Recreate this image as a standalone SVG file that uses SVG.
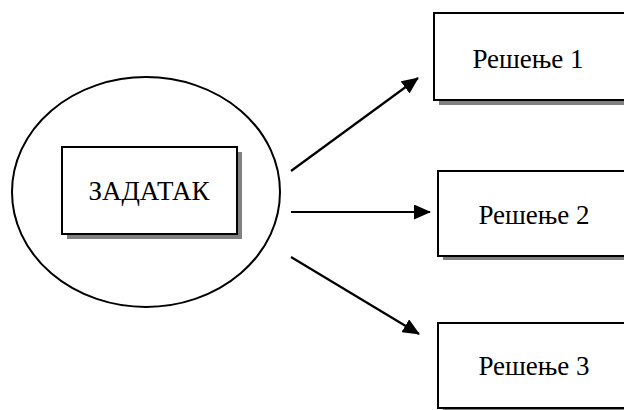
<svg xmlns="http://www.w3.org/2000/svg" width="624" height="410" viewBox="0 0 624 410">
<defs>
<style>
.box{fill:#fff;stroke:#000;stroke-width:2}
.sh{fill:#808080}
.t{font-family:"Liberation Serif","Times New Roman",serif;font-size:27px;fill:#000;text-anchor:middle}
.c{stroke:#000;stroke-width:2.2;fill:none}
</style>
<marker id="ah" markerWidth="17" markerHeight="15" refX="16" refY="7.5" orient="auto" markerUnits="userSpaceOnUse">
<path d="M0,0 L17,7.5 L0,15 Z" fill="#000"/>
</marker>
</defs>
<g id="task">
<ellipse cx="146" cy="192" rx="134" ry="115" fill="#fff" stroke="#000" stroke-width="2"/>
<rect class="sh" x="67" y="152" width="175" height="87"/>
<rect class="box" x="62" y="147" width="175" height="87"/>
<text class="t" x="149" y="200">ЗАДАТАК</text>
</g>
<g id="sol1">
<rect class="sh" x="439" y="18" width="200" height="87"/>
<rect class="box" x="434" y="13" width="200" height="87"/>
<text class="t" x="528" y="68">Решење 1</text>
</g>
<g id="sol2">
<rect class="sh" x="443" y="175" width="200" height="85"/>
<rect class="box" x="438" y="171" width="200" height="85"/>
<text class="t" x="534" y="224">Решење 2</text>
</g>
<g id="sol3">
<rect class="sh" x="443" y="327" width="200" height="85"/>
<rect class="box" x="438" y="323" width="200" height="85"/>
<text class="t" x="534" y="375">Решење 3</text>
</g>
<g id="connectors">
<line class="c" x1="291" y1="171" x2="418" y2="78" marker-end="url(#ah)"/>
<line class="c" x1="291" y1="212" x2="430" y2="212" marker-end="url(#ah)"/>
<line class="c" x1="291" y1="257" x2="419" y2="334" marker-end="url(#ah)"/>
</g>
</svg>
